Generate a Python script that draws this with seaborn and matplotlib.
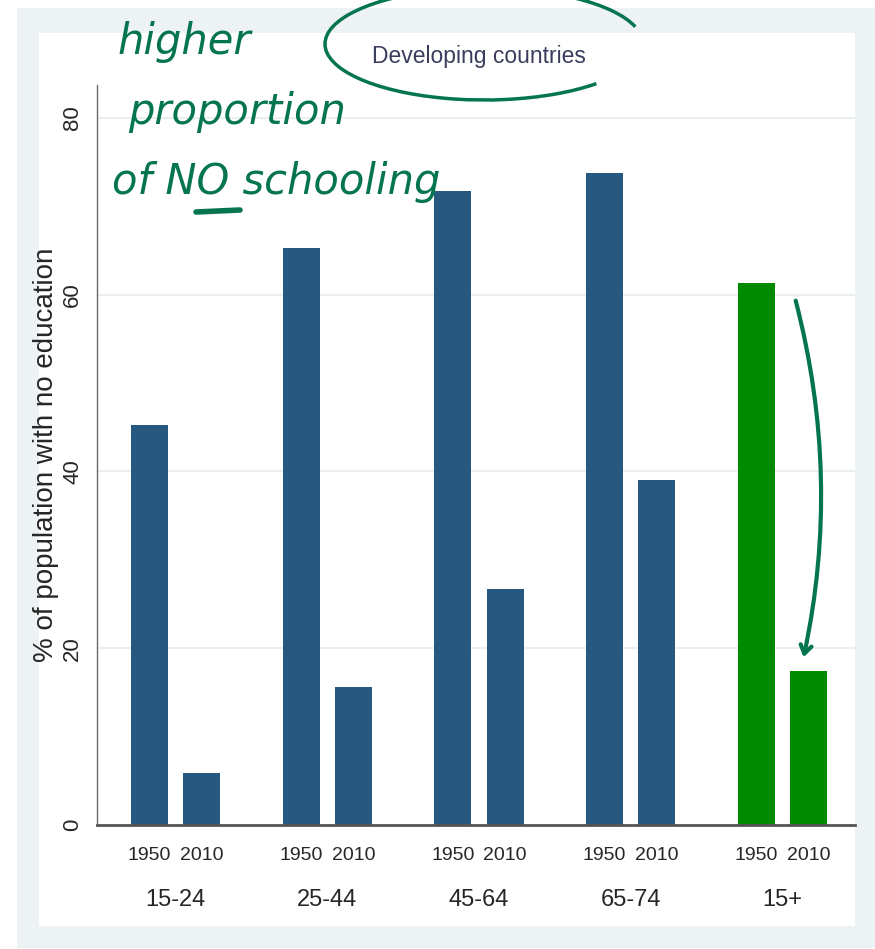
import numpy as np
import pandas as pd
import seaborn as sns
import matplotlib
matplotlib.use("Agg")
from matplotlib import pyplot as plt
from matplotlib.patches import Rectangle, Arc, FancyArrowPatch

# values
groups = ["15-24", "25-44", "45-64", "65-74", "15+"]
years = ["1950", "2010"]
pct_1950 = [45.2, 65.3, 71.7, 73.8, 61.3]
pct_2010 = [5.9, 15.6, 26.7, 39.0, 17.4]

blue = "#27587f"
green = "#008a00"
ink = "#05754f"

sns.set_theme(style="white")
plt.rcParams["font.family"] = ["Liberation Sans", "DejaVu Sans"]

df = pd.DataFrame({
    "group": groups * 2,
    "year": [years[0]] * len(groups) + [years[1]] * len(groups),
    "pct": pct_1950 + pct_2010,
})

W, H = 875, 949
fig = plt.figure(figsize=(W / 100, H / 100), dpi=100, facecolor="white")

# outer grey frame and inner white panel (Stata look)
fig.patches.append(Rectangle((17 / W, 1 - 948 / H), (W - 17) / W, (948 - 8) / H,
                             transform=fig.transFigure, facecolor="#edf2f5",
                             edgecolor="none", zorder=-3))
fig.patches.append(Rectangle((39 / W, 1 - 926 / H), (855 - 39) / W, (926 - 33) / H,
                             transform=fig.transFigure, facecolor="white",
                             edgecolor="none", zorder=-2))

ax = fig.add_axes([97 / W, 1 - 825 / H, (855 - 97) / W, (825 - 85) / H])
ax.set_facecolor("none")

sns.barplot(data=df, x="group", y="pct", hue="year", palette=[blue, blue],
            width=0.688, gap=0.29, saturation=1, legend=False, ax=ax, zorder=3)

for p in ax.patches:
    if p.get_x() + p.get_width() / 2 > 3.5:
        p.set_facecolor(green)
    p.set_edgecolor("none")

ax.set_xlim(-0.519, 4.48)
ax.set_ylim(0, 83.7)

# axes styling
for side in ["top", "right"]:
    ax.spines[side].set_visible(False)
ax.spines["left"].set_color("#6b6b6b")
ax.spines["left"].set_linewidth(1)
ax.spines["bottom"].set_color("#555555")
ax.spines["bottom"].set_linewidth(2)
ax.spines["bottom"].set_zorder(4)

ax.set_yticks([0, 20, 40, 60, 80])
ax.set_yticklabels(["0", "20", "40", "60", "80"], rotation=90, va="center",
                   fontsize=16)
ax.tick_params(axis="y", length=5, width=1, color="#6b6b6b", pad=5)
ax.yaxis.grid(True, color="#eaf0f2", linewidth=1.5)
ax.set_axisbelow(True)

ax.set_xticks(range(len(groups)))
ax.set_xticklabels(groups, fontsize=17)
ax.set_xticks([i + d for i in range(len(groups)) for d in (-0.172, 0.172)], minor=True)
ax.set_xticklabels(years * len(groups), minor=True, fontsize=14)
ax.tick_params(axis="x", which="major", length=0, pad=46)
ax.tick_params(axis="x", which="minor", length=0, pad=16)
ax.set_xlabel("")
ax.set_ylabel("% of population with no education", fontsize=20, labelpad=2)

fig.text(479 / W, 1 - 56 / H, "Developing countries", ha="center", va="center",
         fontsize=16.5, color="#3a3d5c")

# handwritten notes
hand = dict(color=ink, fontsize=30, style="italic", family="DejaVu Sans",
            ha="left", va="center")
fig.text(118 / W, 1 - 42 / H, "higher", **hand)
fig.text(128 / W, 1 - 112 / H, "proportion", **hand)
fig.text(112 / W, 1 - 182 / H, "of NO schooling", **hand)
fig.lines.append(plt.Line2D([196 / W, 240 / W], [1 - 212 / H, 1 - 210 / H],
                            transform=fig.transFigure, color=ink, lw=4))

fig.patches.append(Arc((484 / W, 1 - 44 / H), 318 / W, 112 / H, theta1=6,
                       theta2=342, transform=fig.transFigure, color=ink, lw=2.5))
fig.patches.append(FancyArrowPatch((795 / W, 1 - 298 / H), (803 / W, 1 - 660 / H),
                                   transform=fig.transFigure,
                                   connectionstyle="arc3,rad=-0.12",
                                   arrowstyle="->,head_length=6,head_width=4",
                                   color=ink, lw=3))

fig.savefig("out.png", dpi=100)
